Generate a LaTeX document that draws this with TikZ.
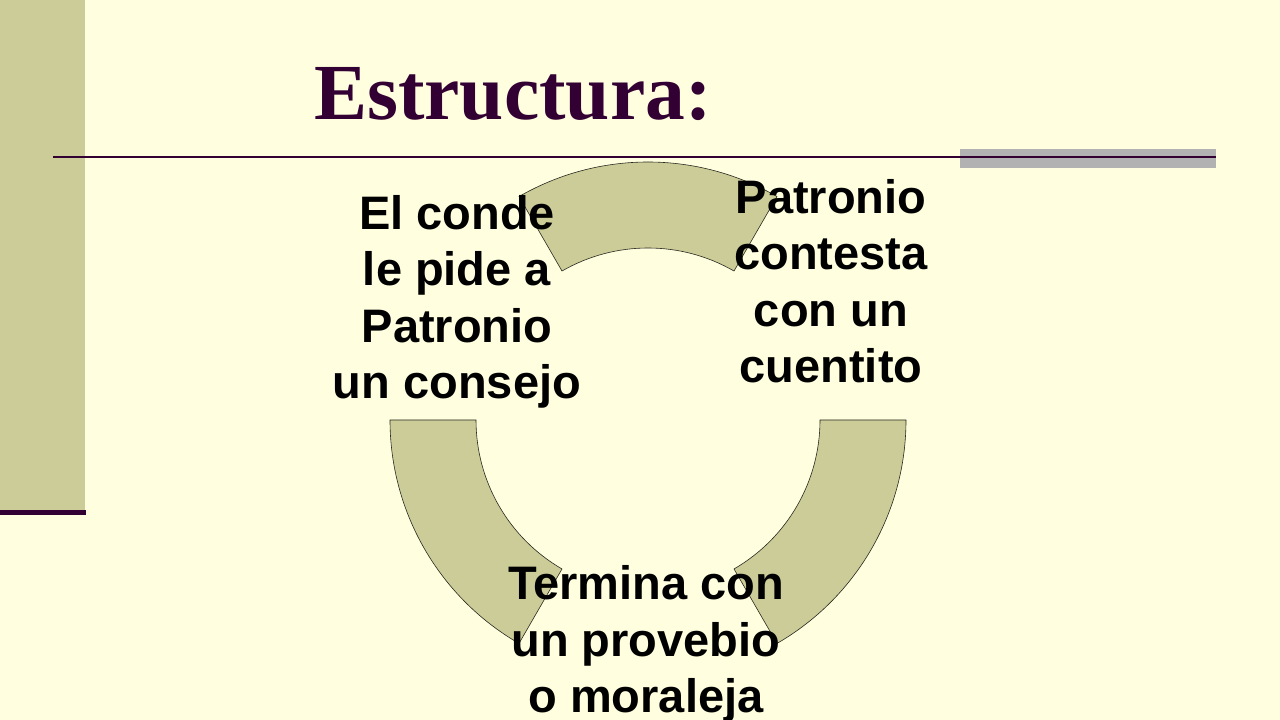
\documentclass[tikz,border=0pt]{standalone}
\usepackage{fontspec}
\usetikzlibrary{calc}
\setmainfont{Liberation Serif}
\newfontfamily\labelfont{Liberation Sans}
\definecolor{slidebg}{HTML}{FFFFE0}
\definecolor{olive}{HTML}{CCCC99}
\definecolor{plum}{HTML}{330033}
\definecolor{bargray}{HTML}{B2B2B2}

\begin{document}
\begin{tikzpicture}[x=1pt,y=1pt,
  segment/.style={fill=olive,draw=black!80!olive,line width=0.6pt},
  steptext/.style={align=center,text=black,font=\labelfont\bfseries\fontsize{47}{56.5}\selectfont}]
% Slide background
\fill[slidebg] (0,0) rectangle (1280,720);
\useasboundingbox (0,0) rectangle (1280,720);
% Left band
\fill[olive] (0,720) rectangle (85,210);
\fill[plum] (0,205) rectangle (86,210);
% Title and rule
\node[anchor=base west,inner sep=0pt,text=plum,font=\bfseries\fontsize{79.5}{90}\selectfont] (title) at (314,600) {Estructura:};
\fill[bargray] (960,552) rectangle (1216,571);
\draw[plum,line width=2.5pt] (53,563) -- (1216,563);
% Cycle segments
\coordinate (c) at (648,300);
\draw[segment] ($(c)+(60:258)$) arc (60:120:258) -- ($(c)+(120:172)$) arc (120:60:172) -- cycle;
\draw[segment] ($(c)+(180:258)$) arc (180:240:258) -- ($(c)+(240:172)$) arc (240:180:172) -- cycle;
\draw[segment] ($(c)+(0:258)$) arc (0:-60:258) -- ($(c)+(-60:172)$) arc (-60:0:172) -- cycle;
% Step texts
\node[steptext] (ask) at (457,418) {El conde\\le pide a\\Patronio\\un consejo};
\node[steptext] (tale) at (831,439) {Patronio\\contesta\\con un\\cuentito};
\node[steptext] (moral) at (646,76) {Termina con\\un provebio\\o moraleja};
\end{tikzpicture}
\end{document}
